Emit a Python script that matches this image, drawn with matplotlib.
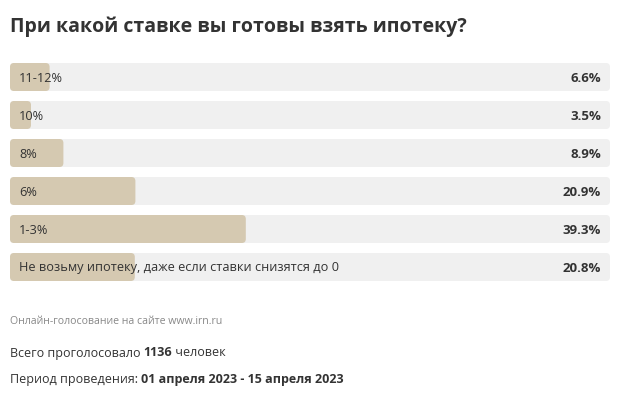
import matplotlib
matplotlib.use("Agg")
import matplotlib.pyplot as plt
from matplotlib.patches import FancyBboxPatch

labels = ["11-12%", "10%", "8%", "6%", "1-3%", "Не возьму ипотеку, даже если ставки снизятся до 0"]
values = [6.6, 3.5, 8.9, 20.9, 39.3, 20.8]
total_votes = 1136
period = "01 апреля 2023 - 15 апреля 2023"

plt.rcParams['font.family'] = ['Open Sans', 'DejaVu Sans']

W, H = 628, 398
fig = plt.figure(figsize=(W / 100, H / 100), dpi=100)
ax = fig.add_axes([0, 0, 1, 1])
ax.set_xlim(0, W)
ax.set_ylim(H, 0)
ax.axis("off")

x0, full_w, bar_h = 10, 600, 28
top, step = 63, 38
dark = "#333333"

ax.text(x0, 27, "При какой ставке вы готовы взять ипотеку?", fontsize=14, fontweight="bold",
        color=dark, va="center", ha="left")

for i, (lab, v) in enumerate(zip(labels, values)):
    y = top + i * step
    ax.add_patch(FancyBboxPatch((x0, y), full_w, bar_h, boxstyle="round,pad=0,rounding_size=4",
                                fc="#f0f0f0", ec="none"))
    ax.add_patch(FancyBboxPatch((x0, y), v / 100 * full_w, bar_h, boxstyle="round,pad=0,rounding_size=4",
                                fc="#d5c9b1", ec="none"))
    ax.text(x0 + 9, y + bar_h / 2 + 1, lab, fontsize=9.2, color=dark, va="center", ha="left")
    ax.text(x0 + full_w - 9, y + bar_h / 2 + 1, f"{v}%", fontsize=9.5, fontweight="bold",
            color=dark, va="center", ha="right")

renderer = fig.canvas.get_renderer()


def line(x, y, parts, size, color):
    # pieces of one line, some bold, placed one after another
    for txt, bold in parts:
        t = ax.text(x, y, txt, fontsize=size, color=color, va="center", ha="left",
                    fontweight="bold" if bold else "normal")
        x += t.get_window_extent(renderer=renderer).width


line(x0, 321, [("Онлайн-голосование на сайте www.irn.ru", False)], 7.6, "#888888")
line(x0, 353, [("Всего проголосовало ", False), (f"{total_votes}", True), (" человек", False)], 9, dark)
line(x0, 380, [("Период проведения: ", False), (period, True)], 9, dark)

fig.savefig("out.png", dpi=100)
